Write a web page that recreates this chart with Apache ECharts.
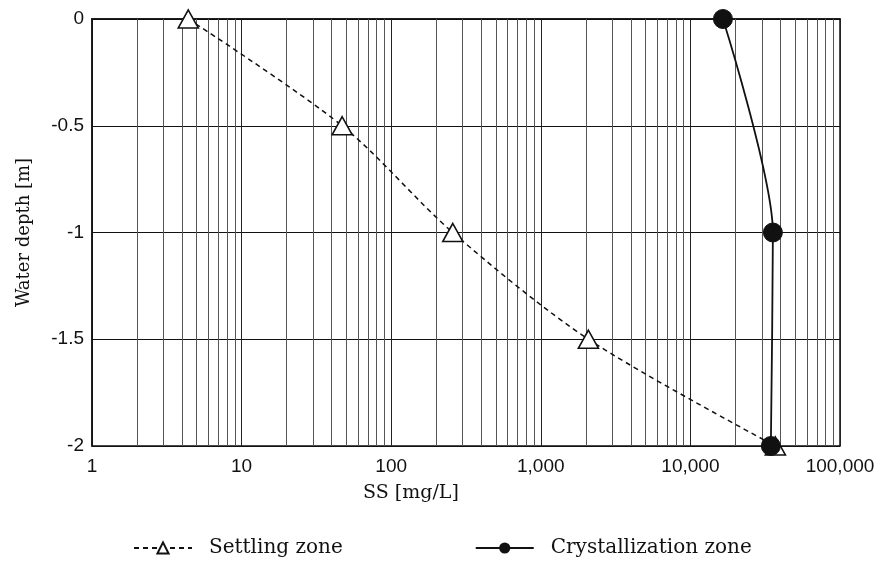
<!DOCTYPE html>
<html>
<head>
<meta charset="utf-8">
<script src="https://cdn.jsdelivr.net/npm/echarts@6/dist/echarts.min.js"></script>
<style>
  html, body { margin: 0; padding: 0; background: #fff; }
  #chart { width: 878px; height: 561px; }
</style>
</head>
<body>
<div id="chart"></div>
<script>
// depth profile, x = SS [mg/L] (log), y = water depth [m]
const depths = [0, -0.5, -1, -1.5, -2]
const settlingSS = [4.4, 47, 258, 2080, 37000]
const crystalDepths = [0, -1, -2]
const crystalSS = [16500, 35600, 34500]
const xTicks = ['1', '10', '100', '1,000', '10,000', '100,000']
const yTicks = ['0', '-0.5', '-1', '-1.5', '-2']

// minor log grid lines at 2..9 of each decade
const minorLines = []
for (let d = 1; d < 100000; d *= 10) {
  for (let k = 2; k <= 9; k++) minorLines.push({ xAxis: k * d })
}

const sans = 'Liberation Sans'
const serif = 'DejaVu Serif'

const chart = echarts.init(document.getElementById('chart'))
chart.setOption({
  animation: false,
  grid: { left: 92, right: 38, top: 19, bottom: 115, show: true, borderColor: '#111', borderWidth: 1.5 },
  legend: {
    bottom: -2,
    left: 128,
    itemGap: 132,
    itemWidth: 58,
    itemHeight: 14,
    textStyle: { fontFamily: serif, fontSize: 20, color: '#111', padding: [0, 0, 0, 12] },
    data: ['Settling zone', 'Crystallization zone']
  },
  xAxis: {
    type: 'log',
    logBase: 10,
    min: 1,
    max: 100000,
    name: 'SS [mg/L]',
    nameLocation: 'middle',
    nameGap: 38,
    nameTextStyle: { fontFamily: serif, fontSize: 19, color: '#111', padding: [0, 110, 0, 0] },
    axisLine: { lineStyle: { color: '#111', width: 1.5 } },
    axisTick: { show: false },
    axisLabel: {
      fontFamily: sans, fontSize: 19, color: '#111', margin: 11,
      formatter: (v) => xTicks[Math.round(Math.log10(v))]
    },
    splitLine: { show: true, lineStyle: { color: '#222', width: 1 } }
  },
  yAxis: {
    type: 'value',
    min: -2,
    max: 0,
    interval: 0.5,
    name: 'Water depth [m]',
    nameLocation: 'middle',
    nameGap: 59,
    nameTextStyle: { fontFamily: serif, fontSize: 18, color: '#111' },
    axisLine: { show: true, lineStyle: { color: '#111', width: 1.5 } },
    axisTick: { show: false },
    axisLabel: {
      fontFamily: sans, fontSize: 19, color: '#111', margin: 8,
      formatter: (v) => yTicks[Math.round(-v * 2)]
    },
    splitLine: { show: true, lineStyle: { color: '#111', width: 1 } }
  },
  series: [
    {
      name: 'Settling zone',
      type: 'line',
      smooth: 0.3,
      data: settlingSS.map((v, i) => [v, depths[i]]),
      symbol: 'triangle',
      symbolSize: [20, 18],
      itemStyle: { color: '#fff', borderColor: '#111', borderWidth: 1.6 },
      lineStyle: { color: '#111', width: 1.5, type: [5, 4] },
      z: 3,
      markLine: {
        silent: true,
        symbol: 'none',
        label: { show: false },
        lineStyle: { color: '#555', width: 1, type: 'solid' },
        data: minorLines,
        z: 1
      }
    },
    {
      name: 'Crystallization zone',
      type: 'line',
      smooth: 0.25,
      data: crystalSS.map((v, i) => [v, crystalDepths[i]]),
      symbol: 'circle',
      symbolSize: 19,
      itemStyle: { color: '#111', borderColor: '#111' },
      lineStyle: { color: '#111', width: 1.8 },
      z: 4
    }
  ]
})
</script>
</body>
</html>
